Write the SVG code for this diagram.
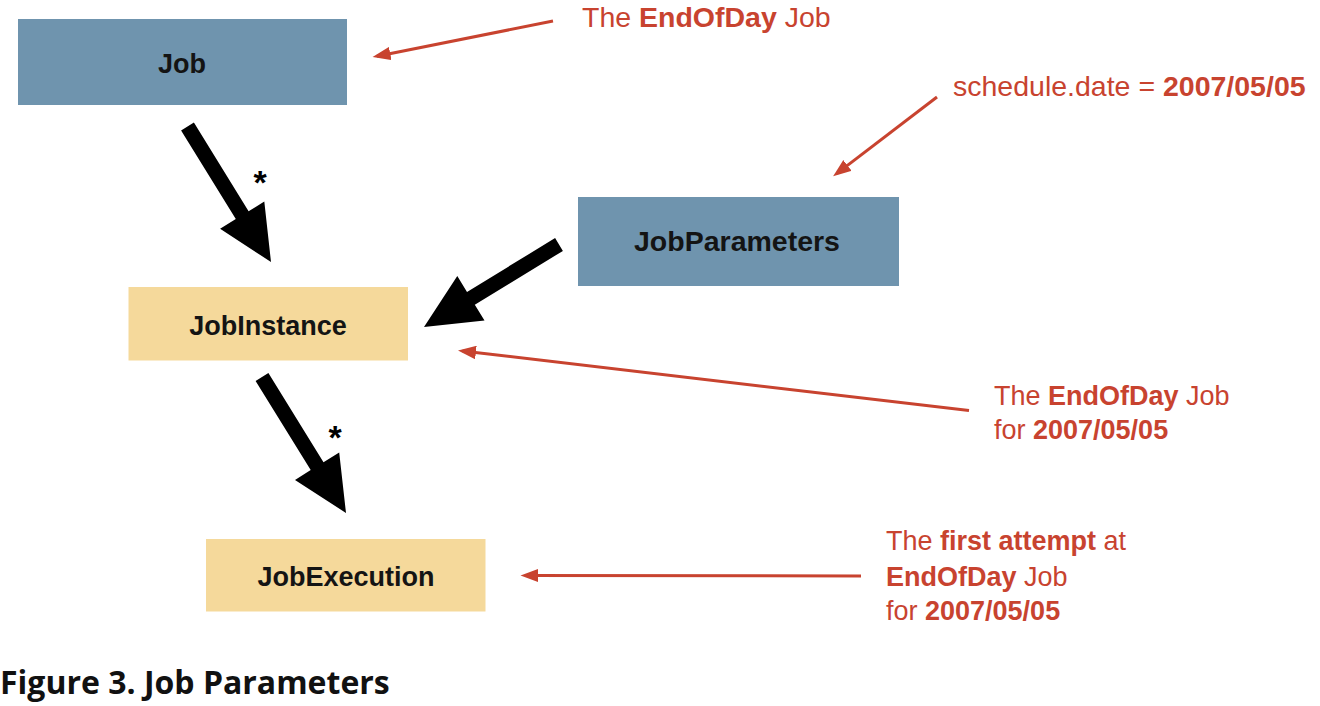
<svg xmlns="http://www.w3.org/2000/svg" width="1320" height="706" viewBox="0 0 1320 706">
<style>
.blue{fill:#6f94ae}
.yel{fill:#f5d99b}
.lbl{font-family:"Liberation Sans",Arial,sans-serif;font-weight:bold;font-size:27px;fill:#141414;text-anchor:middle}
.note{font-family:"Liberation Sans",Arial,sans-serif;font-size:28.5px;fill:#c8432f}
.sm{font-size:27px}
.b{font-weight:bold}
.ast{font-family:"Liberation Sans",Arial,sans-serif;font-weight:bold;font-size:34px;fill:#000;text-anchor:middle}
.red{stroke:#c8432f;stroke-width:3;fill:none;marker-end:url(#rh)}
.big{fill:#000}
</style>
<defs>
<marker id="rh" markerUnits="userSpaceOnUse" markerWidth="18" markerHeight="14" refX="12" refY="6" orient="auto" viewBox="0 0 16 12">
<path d="M0,0 L16,6 L0,12 z" fill="#c8432f"/>
</marker>
</defs>
<rect width="1320" height="706" fill="#fff"/>
<g id="connectors">
<polygon class="big" points="181.1,130.4 193.9,122.6 248.6,211.3 264.3,201.6 271,262 220.1,228.8 235.8,219.1"/>
<polygon class="big" points="555.1,238.1 562.9,250.9 474.8,304.7 484.5,320.5 424,327 457.3,276.1 467,291.9"/>
<polygon class="big" points="255.6,380.9 268.4,373.1 323.5,462.3 339.2,452.5 346,513 295,479.9 310.7,470.1"/>
<text class="ast" x="260" y="194">*</text>
<text class="ast" x="335" y="449">*</text>
<line class="red" x1="553" y1="21" x2="377" y2="56.2"/>
<line class="red" x1="937" y1="97" x2="836.7" y2="173.6"/>
<line class="red" x1="969" y1="410.5" x2="462.5" y2="351"/>
<line class="red" x1="861" y1="576" x2="525" y2="575.5"/>
</g>
<g id="job">
<rect class="blue" x="18" y="19" width="329" height="86"/>
<text class="lbl" x="182" y="72.5">Job</text>
</g>
<g id="jobparameters">
<rect class="blue" x="578" y="197" width="321" height="89"/>
<text class="lbl" x="737" y="250.5" style="font-size:28.5px">JobParameters</text>
</g>
<g id="jobinstance">
<rect class="yel" x="128.5" y="287" width="279.5" height="73.5"/>
<text class="lbl" x="268" y="335">JobInstance</text>
</g>
<g id="jobexecution">
<rect class="yel" x="206" y="539" width="279.5" height="72.5"/>
<text class="lbl" x="346" y="585.5">JobExecution</text>
</g>
<g id="note-job">
<text class="note" x="582" y="27">The <tspan class="b">EndOfDay</tspan> Job</text>
</g>
<g id="note-params">
<text class="note" x="953" y="96">schedule.date = <tspan class="b">2007/05/05</tspan></text>
</g>
<g id="note-instance">
<text class="note sm" x="994" y="405">The <tspan class="b">EndOfDay</tspan> Job</text>
<text class="note sm" x="994" y="439">for <tspan class="b">2007/05/05</tspan></text>
</g>
<g id="note-execution">
<text class="note sm" x="886" y="550">The <tspan class="b">first attempt</tspan> at</text>
<text class="note sm" x="886" y="586"><tspan class="b">EndOfDay</tspan> Job</text>
<text class="note sm" x="886" y="620">for <tspan class="b">2007/05/05</tspan></text>
</g>
<text x="0" y="694" style="font-family:'Open Sans','Noto Sans',sans-serif;font-weight:bold;font-size:32px;fill:#111">Figure 3. Job Parameters</text>
</svg>
